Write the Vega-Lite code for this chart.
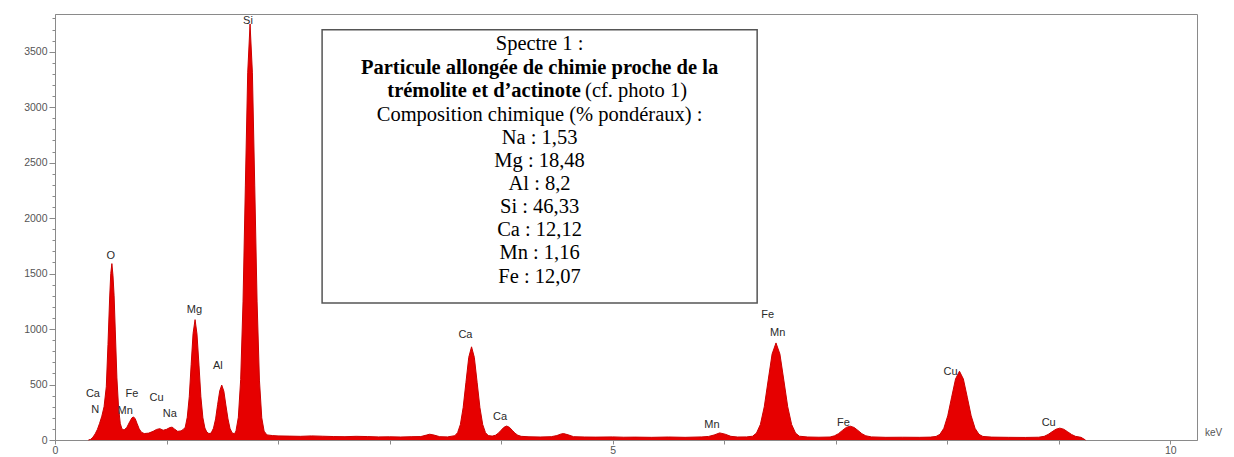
{
  "$schema": "https://vega.github.io/schema/vega-lite/v6.json",
  "width": 1142,
  "height": 426,
  "autosize": "none",
  "padding": {"left": 55, "top": 14, "right": 37, "bottom": 17},
  "background": "white",
  "config": {
    "view": {"stroke": "#8a8a8a", "strokeWidth": 1},
    "axis": {"domainColor": "#8a8a8a", "tickColor": "#8a8a8a", "labelColor": "#555555", "labelFont": "Liberation Sans", "labelFontSize": 10.5, "grid": false}
  },
  "datasets": {
    "spectrum": [
      {"x":0.30,"y":0},{"x":0.32,"y":6},{"x":0.34,"y":25},{"x":0.36,"y":55},{"x":0.38,"y":95},{"x":0.40,"y":150},{"x":0.42,"y":215},{"x":0.44,"y":300},{"x":0.46,"y":480},{"x":0.475,"y":860},{"x":0.49,"y":1280},{"x":0.50,"y":1500},{"x":0.51,"y":1590},{"x":0.52,"y":1480},{"x":0.53,"y":1300},{"x":0.54,"y":1000},{"x":0.555,"y":560},{"x":0.57,"y":290},{"x":0.585,"y":150},{"x":0.60,"y":100},{"x":0.62,"y":90},{"x":0.645,"y":115},{"x":0.67,"y":165},{"x":0.69,"y":200},{"x":0.705,"y":208},{"x":0.72,"y":190},{"x":0.735,"y":150},{"x":0.755,"y":100},{"x":0.775,"y":70},{"x":0.80,"y":58},{"x":0.84,"y":62},{"x":0.88,"y":78},{"x":0.91,"y":95},{"x":0.94,"y":102},{"x":0.97,"y":88},{"x":1.00,"y":96},{"x":1.03,"y":112},{"x":1.05,"y":116},{"x":1.07,"y":100},{"x":1.10,"y":78},{"x":1.13,"y":82},{"x":1.15,"y":95},{"x":1.168,"y":115},{"x":1.186,"y":205},{"x":1.204,"y":390},{"x":1.221,"y":680},{"x":1.238,"y":960},{"x":1.256,"y":1085},{"x":1.273,"y":955},{"x":1.291,"y":675},{"x":1.308,"y":390},{"x":1.326,"y":200},{"x":1.344,"y":108},{"x":1.361,"y":72},{"x":1.38,"y":58},{"x":1.40,"y":62},{"x":1.421,"y":106},{"x":1.44,"y":190},{"x":1.458,"y":318},{"x":1.477,"y":442},{"x":1.495,"y":495},{"x":1.514,"y":440},{"x":1.532,"y":315},{"x":1.551,"y":190},{"x":1.569,"y":105},{"x":1.588,"y":64},{"x":1.61,"y":56},{"x":1.623,"y":82},{"x":1.644,"y":205},{"x":1.665,"y":545},{"x":1.686,"y":1245},{"x":1.707,"y":2290},{"x":1.728,"y":3310},{"x":1.749,"y":3750},{"x":1.770,"y":3310},{"x":1.791,"y":2290},{"x":1.812,"y":1245},{"x":1.833,"y":540},{"x":1.854,"y":200},{"x":1.875,"y":80},{"x":1.90,"y":46},{"x":1.95,"y":40},{"x":2.0,"y":37},{"x":2.1,"y":35},{"x":2.2,"y":33},{"x":2.3,"y":37},{"x":2.4,"y":34},{"x":2.5,"y":31},{"x":2.6,"y":30},{"x":2.7,"y":33},{"x":2.8,"y":31},{"x":2.9,"y":28},{"x":3.0,"y":29},{"x":3.1,"y":27},{"x":3.2,"y":30},{"x":3.28,"y":31},{"x":3.33,"y":44},{"x":3.36,"y":52},{"x":3.40,"y":44},{"x":3.45,"y":30},{"x":3.52,"y":28},{"x":3.585,"y":39},{"x":3.61,"y":66},{"x":3.635,"y":140},{"x":3.66,"y":293},{"x":3.685,"y":520},{"x":3.71,"y":745},{"x":3.735,"y":840},{"x":3.76,"y":745},{"x":3.785,"y":520},{"x":3.81,"y":293},{"x":3.835,"y":140},{"x":3.86,"y":66},{"x":3.885,"y":40},{"x":3.92,"y":35},{"x":3.95,"y":43},{"x":3.975,"y":61},{"x":4.00,"y":88},{"x":4.025,"y":114},{"x":4.05,"y":126},{"x":4.075,"y":114},{"x":4.10,"y":88},{"x":4.125,"y":61},{"x":4.15,"y":43},{"x":4.18,"y":33},{"x":4.25,"y":29},{"x":4.35,"y":27},{"x":4.45,"y":30},{"x":4.50,"y":40},{"x":4.54,"y":55},{"x":4.56,"y":58},{"x":4.60,"y":47},{"x":4.65,"y":30},{"x":4.75,"y":27},{"x":4.85,"y":26},{"x":5.0,"y":28},{"x":5.1,"y":25},{"x":5.2,"y":26},{"x":5.35,"y":24},{"x":5.5,"y":27},{"x":5.65,"y":24},{"x":5.8,"y":28},{"x":5.86,"y":32},{"x":5.91,"y":45},{"x":5.96,"y":64},{"x":6.01,"y":52},{"x":6.06,"y":33},{"x":6.12,"y":27},{"x":6.2,"y":28},{"x":6.255,"y":34},{"x":6.29,"y":62},{"x":6.325,"y":140},{"x":6.36,"y":300},{"x":6.395,"y":540},{"x":6.43,"y":775},{"x":6.465,"y":875},{"x":6.50,"y":775},{"x":6.535,"y":540},{"x":6.57,"y":300},{"x":6.605,"y":140},{"x":6.64,"y":62},{"x":6.675,"y":34},{"x":6.75,"y":27},{"x":6.85,"y":25},{"x":6.95,"y":27},{"x":6.99,"y":38},{"x":7.025,"y":57},{"x":7.06,"y":86},{"x":7.095,"y":113},{"x":7.13,"y":125},{"x":7.165,"y":113},{"x":7.20,"y":86},{"x":7.235,"y":57},{"x":7.27,"y":38},{"x":7.32,"y":28},{"x":7.45,"y":24},{"x":7.6,"y":25},{"x":7.75,"y":24},{"x":7.85,"y":26},{"x":7.90,"y":32},{"x":7.935,"y":51},{"x":7.97,"y":105},{"x":8.005,"y":218},{"x":8.04,"y":386},{"x":8.075,"y":550},{"x":8.11,"y":620},{"x":8.145,"y":550},{"x":8.18,"y":386},{"x":8.215,"y":218},{"x":8.25,"y":105},{"x":8.285,"y":51},{"x":8.32,"y":32},{"x":8.4,"y":26},{"x":8.55,"y":24},{"x":8.7,"y":23},{"x":8.82,"y":25},{"x":8.87,"y":33},{"x":8.905,"y":50},{"x":8.94,"y":74},{"x":8.975,"y":97},{"x":9.01,"y":107},{"x":9.045,"y":97},{"x":9.08,"y":74},{"x":9.115,"y":50},{"x":9.15,"y":33},{"x":9.2,"y":24},{"x":9.24,"y":0}
    ],
    "peaks": [
      {"t":"Ca","x":0.34,"y":415},{"t":"N","x":0.36,"y":270},{"t":"O","x":0.50,"y":1659},{"t":"Fe","x":0.69,"y":415},{"t":"Mn","x":0.63,"y":261},{"t":"Cu","x":0.91,"y":379},{"t":"Na","x":1.03,"y":234},{"t":"Mg","x":1.25,"y":1172},{"t":"Al","x":1.46,"y":667},{"t":"Si","x":1.73,"y":3778},{"t":"Ca","x":3.68,"y":947},{"t":"Ca","x":3.99,"y":207},{"t":"Mn","x":5.89,"y":135},{"t":"Fe","x":6.39,"y":1127},{"t":"Mn","x":6.48,"y":965},{"t":"Fe","x":7.07,"y":153},{"t":"Cu","x":8.03,"y":613},{"t":"Cu","x":8.91,"y":153}
    ],
    "box": [{"x":2.395,"x2":6.296,"y":3697,"y2":1235}],
    "boxtext": [
      {"s":"rc","t":"Spectre 1 :","x":4.345,"y":3512},
      {"s":"bc","t":"Particule allongée de chimie proche de la","x":4.345,"y":3296},
      {"s":"br","t":"trémolite et d’actinote","x":4.715,"y":3088},
      {"s":"rl","t":"(cf. photo 1)","x":4.753,"y":3088},
      {"s":"rc","t":"Composition chimique (% pondéraux) :","x":4.345,"y":2877},
      {"s":"rc","t":"Na : 1,53","x":4.345,"y":2669},
      {"s":"rc","t":"Mg : 18,48","x":4.345,"y":2462},
      {"s":"rc","t":"Al : 8,2","x":4.345,"y":2255},
      {"s":"rc","t":"Si : 46,33","x":4.345,"y":2047},
      {"s":"rc","t":"Ca : 12,12","x":4.345,"y":1840},
      {"s":"rc","t":"Mn : 1,16","x":4.345,"y":1628},
      {"s":"rc","t":"Fe : 12,07","x":4.345,"y":1416}
    ]
  },
  "resolve": {"axis": {"y": "independent"}},
  "layer": [
    {
      "data": {"name": "spectrum"},
      "mark": {"type": "area", "color": "#e60000", "fillOpacity": 1, "opacity": 1, "interpolate": "linear", "line": {"color": "#cc0000", "strokeWidth": 1}},
      "encoding": {
        "x": {"field": "x", "type": "quantitative", "scale": {"domain": [0, 10.24], "nice": false, "zero": false},
          "axis": {"values": [0,1,2,3,4,5,6,7,8,9,10], "labelExpr": "datum.value % 5 === 0 ? format(datum.value, 'd') : ''", "tickSize": 4, "labelPadding": 1, "labelFlush": false, "labelOverlap": false,
            "title": "keV", "titleX": 1158, "titleY": -8, "titleAlign": "center", "titleBaseline": "middle", "titleFontSize": 10, "titleFontWeight": "normal", "titleColor": "#555555", "titleFont": "Liberation Sans"}},
        "y": {"field": "y", "type": "quantitative", "scale": {"domain": [0, 3840], "nice": false},
          "axis": {"orient": "left", "values": [0,500,1000,1500,2000,2500,3000,3500], "format": "d", "tickSize": 6, "labelPadding": 2, "labelOverlap": false, "labelFlush": false, "title": null}}
      }
    },
    {
      "data": {"name": "peaks"},
      "mark": {"type": "text", "font": "Liberation Sans", "fontSize": 11, "color": "#2a2a2a", "align": "center", "baseline": "middle"},
      "encoding": {"x": {"field": "x", "type": "quantitative"},
        "y": {"field": "y", "type": "quantitative", "axis": {"orient": "left", "values": [100,200,300,400,600,700,800,900,1100,1200,1300,1400,1600,1700,1800,1900,2100,2200,2300,2400,2600,2700,2800,2900,3100,3200,3300,3400,3600,3700,3800], "labels": false, "domain": false, "tickSize": 3, "title": null}},
        "text": {"field": "t"}}
    },
    {
      "data": {"name": "box"},
      "mark": {"type": "rect", "fill": "white", "stroke": "#555555", "strokeWidth": 1.5},
      "encoding": {"x": {"field": "x", "type": "quantitative"}, "x2": {"field": "x2"}, "y": {"field": "y", "type": "quantitative", "axis": null}, "y2": {"field": "y2"}}
    },
    {
      "data": {"name": "boxtext"},
      "transform": [{"filter": "datum.s === 'rc'"}],
      "mark": {"type": "text", "font": "Liberation Serif", "fontSize": 20.5, "color": "black", "align": "center", "baseline": "alphabetic"},
      "encoding": {"x": {"field": "x", "type": "quantitative"}, "y": {"field": "y", "type": "quantitative", "axis": null}, "text": {"field": "t"}}
    },
    {
      "data": {"name": "boxtext"},
      "transform": [{"filter": "datum.s === 'bc'"}],
      "mark": {"type": "text", "font": "Liberation Serif", "fontSize": 20.5, "fontWeight": "bold", "color": "black", "align": "center", "baseline": "alphabetic"},
      "encoding": {"x": {"field": "x", "type": "quantitative"}, "y": {"field": "y", "type": "quantitative", "axis": null}, "text": {"field": "t"}}
    },
    {
      "data": {"name": "boxtext"},
      "transform": [{"filter": "datum.s === 'br'"}],
      "mark": {"type": "text", "font": "Liberation Serif", "fontSize": 20.5, "fontWeight": "bold", "color": "black", "align": "right", "baseline": "alphabetic"},
      "encoding": {"x": {"field": "x", "type": "quantitative"}, "y": {"field": "y", "type": "quantitative", "axis": null}, "text": {"field": "t"}}
    },
    {
      "data": {"name": "boxtext"},
      "transform": [{"filter": "datum.s === 'rl'"}],
      "mark": {"type": "text", "font": "Liberation Serif", "fontSize": 20.5, "color": "black", "align": "left", "baseline": "alphabetic"},
      "encoding": {"x": {"field": "x", "type": "quantitative"}, "y": {"field": "y", "type": "quantitative", "axis": null}, "text": {"field": "t"}}
    }
  ]
}
